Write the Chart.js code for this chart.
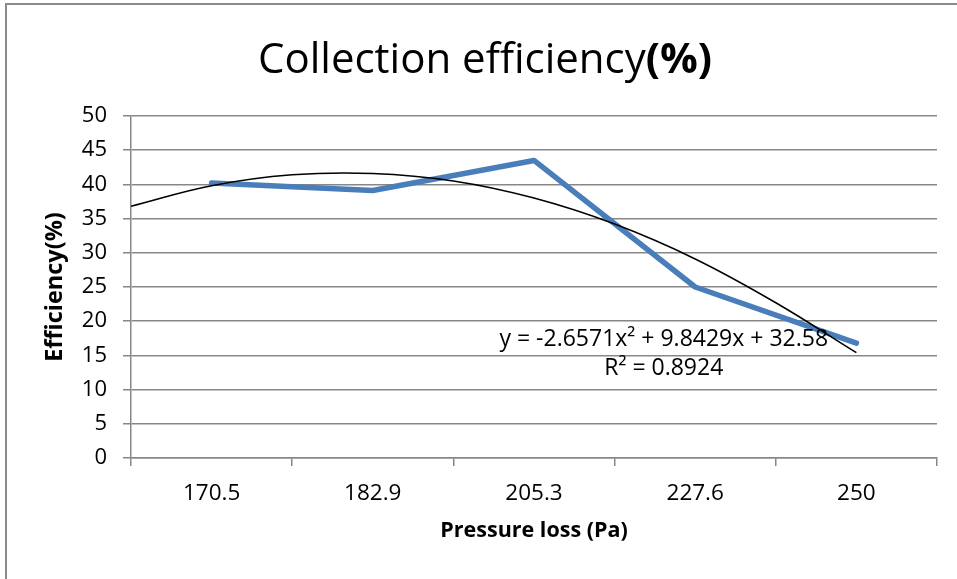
<!DOCTYPE html>
<html>
<head>
<meta charset="utf-8">
<script src="https://cdn.jsdelivr.net/npm/chart.js@4/dist/chart.umd.min.js"></script>
<style>
  html, body { margin: 0; padding: 0; background: #ffffff; }
  #wrap { position: relative; width: 957px; height: 579px; overflow: hidden; }
  #frame { position: absolute; left: 5px; top: 3px; width: 1000px; height: 700px;
           border-left: 2px solid #8a8a8a; border-top: 2px solid #8a8a8a; box-sizing: border-box; }
  canvas { position: absolute; left: 0; top: 0; }
</style>
</head>
<body>
<div id="wrap">
  <div id="frame"></div>
  <canvas id="c" width="957" height="579"></canvas>
</div>
<script>
// ---- data ----
const categories = ["170.5", "182.9", "205.3", "227.6", "250"];
const efficiency = [40.2, 39.1, 43.5, 25.0, 16.8];
// polynomial trendline as drawn in the chart (positions in category units, 1 = first category)
const trendX = [0.5, 1, 1.5, 2, 2.5, 3, 3.5, 4, 4.5, 5];
const trendY = [36.8, 39.8, 41.4, 41.6, 40.5, 38.0, 34.2, 29.1, 22.7, 15.4];
const yTicks = [0, 5, 10, 15, 20, 25, 30, 35, 40, 45, 50];
const titleMain = "Collection efficiency";
const titleBold = "(%)";
const equationLines = ["y = -2.6571x\u00B2 + 9.8429x + 32.58", "R\u00B2 = 0.8924"];
const xTitle = "Pressure loss (Pa)";
const yTitle = "Efficiency(%)";

const FONT = "'Open Sans', Lato, sans-serif";
const GRID = "#878787";

const trendPoints = trendX.map((x, i) => ({ x: x, y: trendY[i] }));

const textPlugin = {
  id: 'texts',
  afterDraw(chart) {
    const ctx = chart.ctx;
    const area = chart.chartArea;
    ctx.save();
    ctx.fillStyle = '#000';
    // title: regular + bold part
    ctx.textBaseline = 'alphabetic';
    ctx.textAlign = 'left';
    const fReg = "42px " + FONT;
    const fBold = "bold 42px " + FONT;
    ctx.font = fReg; const w1 = ctx.measureText(titleMain).width;
    ctx.font = fBold; const w2 = ctx.measureText(titleBold).width;
    const cx = 485;
    let x0 = cx - (w1 + w2) / 2;
    ctx.font = fReg; ctx.fillText(titleMain, x0, 73);
    ctx.font = fBold; ctx.fillText(titleBold, x0 + w1, 73);
    // trendline equation
    ctx.font = "23px " + FONT;
    ctx.textAlign = 'center';
    ctx.textBaseline = 'middle';
    const ex = area.left + (area.right - area.left) * 0.661;
    ctx.fillText(equationLines[0], ex, 339);
    ctx.fillText(equationLines[1], ex, 368);
    ctx.restore();
  }
};

new Chart(document.getElementById('c'), {
  type: 'line',
  data: {
    labels: categories,
    datasets: [
      {
        label: 'Efficiency',
        data: efficiency,
        xAxisID: 'x',
        borderColor: '#4a7ebb',
        borderWidth: 5.5,
        borderCapStyle: 'round',
        borderJoinStyle: 'round',
        pointRadius: 0,
        fill: false,
        tension: 0,
        order: 2
      },
      {
        label: 'Trendline',
        data: trendPoints,
        xAxisID: 'xt',
        borderColor: '#000000',
        borderWidth: 1.5,
        pointRadius: 0,
        fill: false,
        tension: 0.4,
        order: 1
      }
    ]
  },
  options: {
    responsive: false,
    animation: false,
    devicePixelRatio: 1,
    layout: { padding: { top: 116, right: 20, bottom: 0, left: 0 } },
    plugins: { legend: { display: false }, tooltip: { enabled: false }, title: { display: false } },
    scales: {
      x: {
        type: 'category',
        offset: true,
        grid: { offset: true, drawOnChartArea: false, drawTicks: true, tickLength: 8, color: GRID, lineWidth: 1.5 },
        border: { color: GRID, width: 1.5 },
        ticks: { color: '#000', font: { family: FONT, size: 22.5 }, padding: 14, maxRotation: 0 },
        title: { display: true, text: xTitle, color: '#000', font: { family: FONT, size: 21.5, weight: 'bold' }, padding: { top: 0, bottom: 35 } },
        afterFit(scale) { scale.height = 121; }
      },
      xt: {
        type: 'linear',
        display: false,
        min: 0.5,
        max: 5.5
      },
      y: {
        min: 0,
        max: 50,
        afterBuildTicks(scale) { scale.ticks = yTicks.map(v => ({ value: v })); },
        grid: { color: GRID, lineWidth: 1.5, tickLength: 8, drawTicks: true },
        border: { color: GRID, width: 1.5 },
        ticks: { color: '#000', font: { family: FONT, size: 22 }, padding: 16 },
        title: { display: true, text: yTitle, color: '#000', font: { family: FONT, size: 23.5, weight: 'bold' }, padding: { top: 41, bottom: 0 } },
        afterFit(scale) { scale.width = 131; }
      }
    }
  },
  plugins: [textPlugin]
});
</script>
</body>
</html>
